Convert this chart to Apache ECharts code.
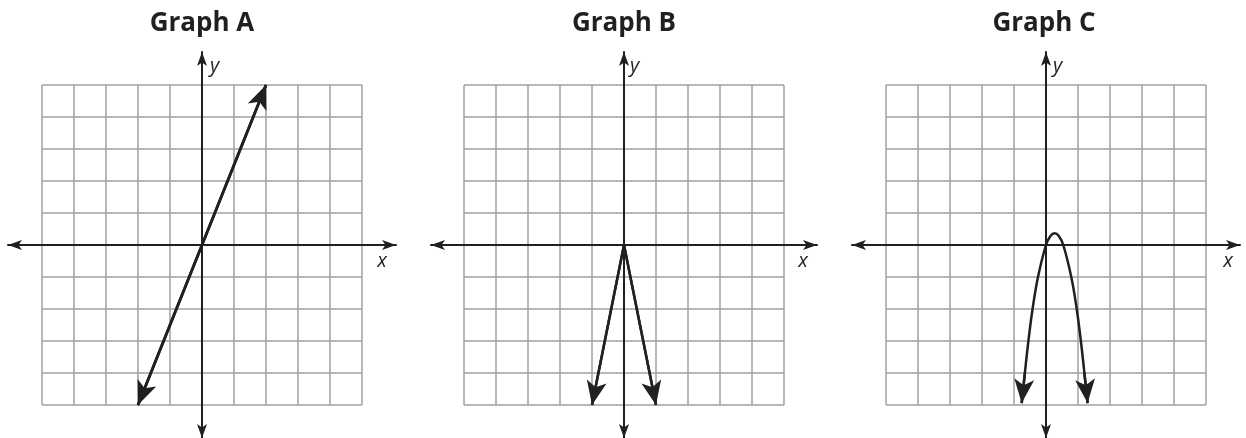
<!DOCTYPE html>
<html>
<head>
<meta charset="utf-8">
<script src="https://cdn.jsdelivr.net/npm/echarts@6/dist/echarts.min.js"></script>
<style>
html,body{margin:0;padding:0;background:#ffffff;}
#chart{width:1246px;height:438px;}
</style>
</head>
<body>
<div id="chart"></div>
<script>
// ---- data ----
const graphTitles = ['Graph A', 'Graph B', 'Graph C'];
const xAxisName = 'x';
const yAxisName = 'y';
const gridMin = -5;
const gridMax = 5;
const gridStep = 1;

// Graph A: straight line through the origin
const graphAX = [-2, 2];
const graphAY = [-5, 5];
// Graph B: V shape opening downward, vertex at origin
const graphBX = [-1, 0, 1];
const graphBY = [-5, 0, -5];
// Graph C: downward parabola
const graphCX = [-0.76, -0.66, -0.55, -0.42, -0.25, 0, 0.14, 0.27, 0.40, 0.54, 0.79, 0.96, 1.09, 1.20, 1.30];
const graphCY = [-4.94, -4, -3, -2, -1, 0, 0.28, 0.365, 0.28, 0, -1, -2, -3, -4, -4.94];

// ---- layout / style ----
const ink = '#231f20';
const gridColor = '#a0a0a0';
const curves = [[graphAX, graphAY, false], [graphBX, graphBY, false], [graphCX, graphCY, true]];
const paperLeft = [42, 464, 886];
const centers = [202, 624, 1044];
const axisLeft = [8, 431, 852];
const axisWidth = [388, 386, 388];
const xNameGap = [-14, -14, -12];
const yNamePad = [8, 6, 7];

const grid = [];
const xAxis = [];
const yAxis = [];
const series = [];
const title = [];

const hiddenPaperAxis = function (idx) {
  return {
    gridIndex: idx, type: 'value', min: gridMin, max: gridMax, interval: gridStep,
    axisLine: {show: false}, axisTick: {show: false}, axisLabel: {show: false},
    splitLine: {show: true, lineStyle: {color: gridColor, width: 1.5}}
  };
};

for (let i = 0; i < 3; i++) {
  grid.push({left: paperLeft[i], top: 85, width: 320, height: 320});
  xAxis.push(hiddenPaperAxis(i));
  yAxis.push(hiddenPaperAxis(i));
}
for (let i = 0; i < 3; i++) {
  const g = 3 + i;
  grid.push({left: axisLeft[i], top: 52, width: axisWidth[i], height: 386});
  const axisLine = {
    show: true, onZero: true, symbol: ['arrow', 'arrow'], symbolSize: [7.5, 14],
    lineStyle: {color: ink, width: 2}
  };
  xAxis.push({
    gridIndex: g, type: 'value', min: -1, max: 1, z: 3,
    axisLine: axisLine, axisTick: {show: false}, axisLabel: {show: false}, splitLine: {show: false},
    name: xAxisName, nameLocation: 'end', nameGap: xNameGap[i],
    nameTextStyle: {fontFamily: 'Open Sans', fontStyle: 'italic', fontSize: 20, color: ink,
      align: 'center', verticalAlign: 'top', padding: [6, 0, 0, 0]}
  });
  yAxis.push({
    gridIndex: g, type: 'value', min: -1, max: 1, z: 3,
    axisLine: axisLine, axisTick: {show: false}, axisLabel: {show: false}, splitLine: {show: false},
    name: yAxisName, nameLocation: 'end', nameGap: -14,
    nameTextStyle: {fontFamily: 'Open Sans', fontStyle: 'italic', fontSize: 20, color: ink,
      align: 'left', verticalAlign: 'middle', padding: [0, 0, 0, yNamePad[i]]}
  });
  title.push({
    text: graphTitles[i], left: centers[i], top: 11, textAlign: 'center', padding: 0,
    textStyle: {fontFamily: 'Open Sans', fontWeight: 'bold', fontSize: 26, color: ink}
  });
}

curves.forEach(function (c, i) {
  const xs = c[0], ys = c[1];
  const pts = xs.map(function (x, k) { return [x, ys[k]]; });
  const n = pts.length;
  series.push({
    type: 'line', xAxisIndex: i, yAxisIndex: i, data: pts, showSymbol: false, symbol: 'none',
    smooth: c[2] ? 0.4 : false, clip: false, z: 5,
    lineStyle: {color: ink, width: 2.5}
  });
  series.push({
    type: 'lines', coordinateSystem: 'cartesian2d', xAxisIndex: i, yAxisIndex: i, clip: false, z: 6,
    symbol: ['none', 'arrow'], symbolSize: [1, [15, 24]],
    lineStyle: {color: ink, width: 2.5, opacity: 1},
    data: [
      {coords: [pts[1], pts[0]]},
      {coords: [pts[n - 2], pts[n - 1]]}
    ]
  });
});

const chart = echarts.init(document.getElementById('chart'), null, {renderer: 'canvas'});
chart.setOption({
  animation: false,
  backgroundColor: '#ffffff',
  title: title,
  grid: grid,
  xAxis: xAxis,
  yAxis: yAxis,
  series: series
});
</script>
</body>
</html>
